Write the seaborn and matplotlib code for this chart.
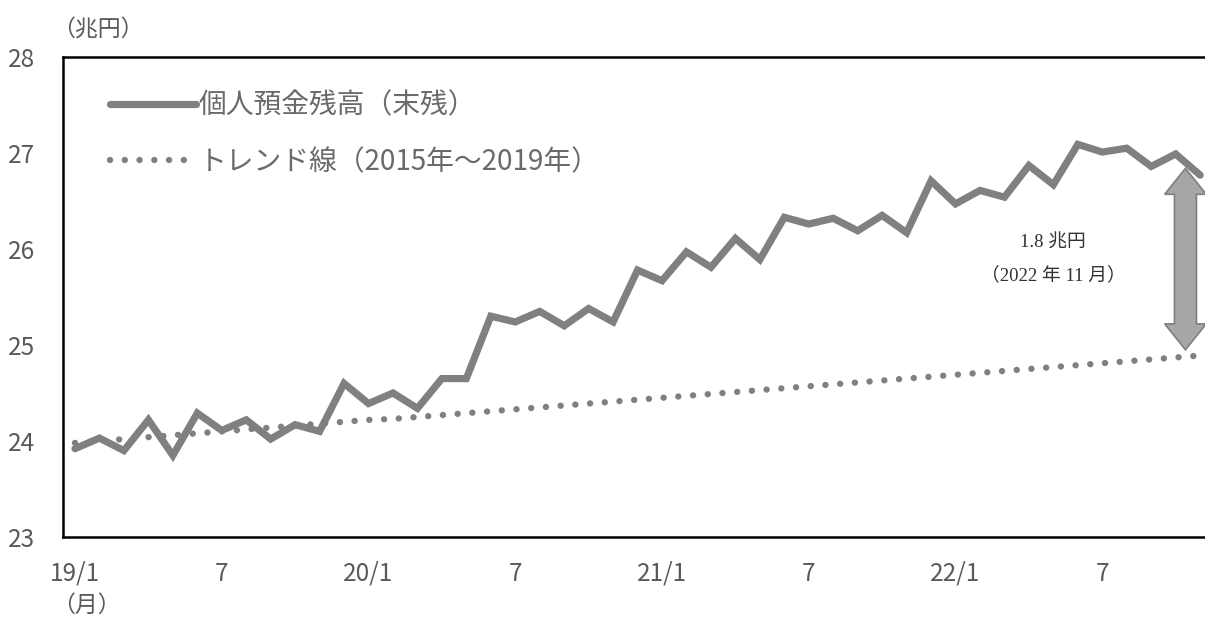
import numpy as np
import pandas as pd
import seaborn as sns
import matplotlib.pyplot as plt
from matplotlib.patches import Polygon

# monthly values, 2019/1 - 2022/11 (trillion yen)
deposits = [23.92, 24.03, 23.90, 24.22, 23.85, 24.29, 24.11, 24.22, 24.02, 24.17,
            24.10, 24.60, 24.39, 24.50, 24.34, 24.65, 24.65, 25.30, 25.24, 25.35,
            25.20, 25.38, 25.24, 25.78, 25.67, 25.97, 25.81, 26.11, 25.89, 26.33,
            26.26, 26.32, 26.19, 26.35, 26.17, 26.71, 26.47, 26.61, 26.54, 26.87,
            26.67, 27.09, 27.01, 27.05, 26.86, 26.99, 26.77]
trend = [23.98, 24.00, 24.02, 24.04, 24.06, 24.08, 24.10, 24.12, 24.14, 24.16,
         24.18, 24.20, 24.22, 24.23, 24.25, 24.27, 24.29, 24.31, 24.33, 24.35,
         24.37, 24.39, 24.41, 24.43, 24.45, 24.47, 24.49, 24.51, 24.53, 24.55,
         24.57, 24.59, 24.61, 24.63, 24.65, 24.67, 24.69, 24.71, 24.73, 24.75,
         24.77, 24.79, 24.81, 24.83, 24.85, 24.87, 24.89]
tick_pos = [0, 6, 12, 18, 24, 30, 36, 42]
tick_labels = ["19/1", "7", "20/1", "7", "21/1", "7", "22/1", "7"]
label_actual = "個人預金残高（末残）"
label_trend = "トレンド線（2015年～2019年）"

sns.set_style("white")
plt.rcParams['font.family'] = ['Noto Sans CJK JP', 'DejaVu Sans']

df = pd.DataFrame({"month": np.arange(len(deposits)), "actual": deposits, "trend": trend})

fig = plt.figure(figsize=(12.05, 6.19), dpi=100)
ax = fig.add_axes([0.0521, 0.1325, 0.954, 0.7754])

gray = "#808080"
sns.lineplot(data=df, x="month", y="actual", ax=ax, color=gray, lw=5.2,
             solid_joinstyle="miter", label=label_actual)
sns.lineplot(data=df, x="month", y="trend", ax=ax, color=gray, lw=4.6,
             linestyle=(0, (0.01, 2.3)), dash_capstyle="round", label=label_trend)

ax.set_xlim(-0.5, len(deposits) - 0.5)
ax.set_ylim(23, 28)
ax.set_yticks([23, 24, 25, 26, 27, 28])
ax.set_xticks(tick_pos)
ax.set_xticklabels(tick_labels)
ax.set_xlabel("")
ax.set_ylabel("")
ax.tick_params(axis="both", length=0, labelsize=17.5, labelcolor="#595959")
ax.tick_params(axis="y", pad=20)
ax.tick_params(axis="x", pad=17)
for s in ax.spines.values():
    s.set_color("black")
    s.set_linewidth(1.8)

leg = ax.legend(loc="upper left", bbox_to_anchor=(0.041, 0.93), frameon=False,
                handlelength=3.1, handletextpad=0.1, labelspacing=0.95,
                borderpad=0, borderaxespad=0, fontsize=20)
for t in leg.get_texts():
    t.set_color("#6a6a6a")

# double arrow showing the gap at the last month
xc = len(deposits) - 1.6
top = deposits[-1] + 0.07
bot = trend[-1] + 0.06
hw, sw, hl = 0.85, 0.45, 0.27
pts = [(xc, top), (xc + hw, top - hl), (xc + sw, top - hl), (xc + sw, bot + hl),
       (xc + hw, bot + hl), (xc, bot), (xc - hw, bot + hl), (xc - sw, bot + hl),
       (xc - sw, top - hl), (xc - hw, top - hl)]
ax.add_patch(Polygon(pts, closed=True, facecolor="#a6a6a6", edgecolor="#7f7f7f",
                     lw=1.2, zorder=3))

serif = ['Liberation Serif', 'Noto Sans CJK JP']
ax.text(xc - 5.4, 26.06, "1.8 兆円", ha="center", va="center", fontsize=13.5,
        family=serif, color="#333333")
ax.text(xc - 5.4, 25.73, "（2022 年 11 月）", ha="center", va="center", fontsize=13.5,
        family=serif, color="#333333")

fig.text(0.043, 0.952, "（兆円）", fontsize=16.5, color="#595959", va="center")
fig.text(0.043, 0.022, "（月）", fontsize=16.5, color="#595959", va="center")

fig.savefig("out.png", dpi=100)
